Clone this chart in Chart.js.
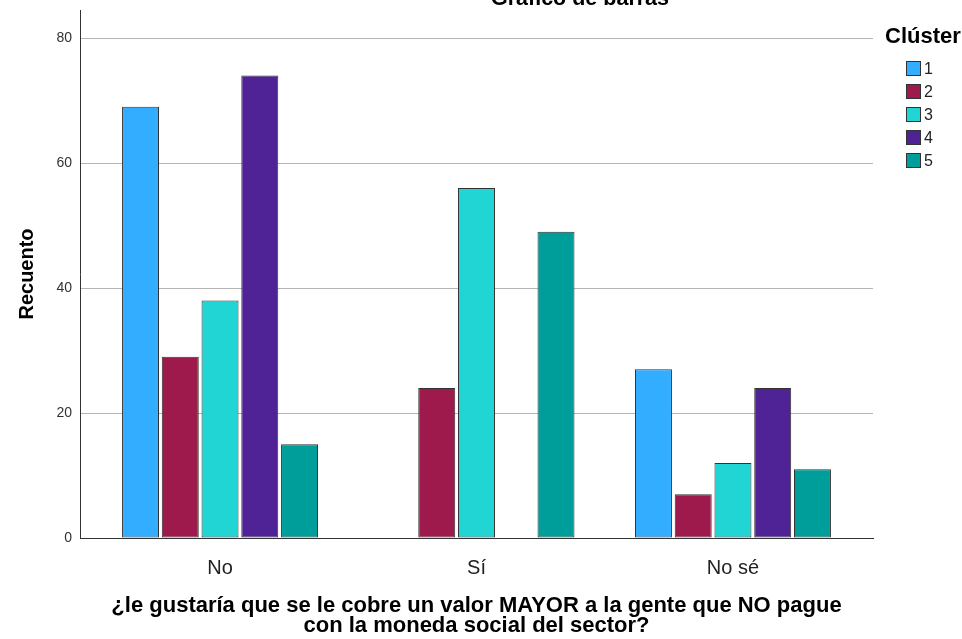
<!DOCTYPE html>
<html>
<head>
<meta charset="utf-8">
<script src="https://cdn.jsdelivr.net/npm/chart.js@4.4.0/dist/chart.umd.min.js"></script>
<style>
  body { margin: 0; background: #fff; font-family: "Liberation Sans", Arial, sans-serif; }
  #wrap { position: relative; width: 962px; height: 639px; }
  #legend { position: absolute; left: 885px; top: 23px; color: #000; }
  #legend .ttl { font-weight: bold; font-size: 22px; margin-bottom: 8px; }
  #legend .item { display: flex; align-items: center; height: 23px; margin-left: 21px; font-size: 16px; color: #222; }
  #legend .box { width: 13px; height: 13px; border: 1px solid #333; margin-right: 3px; }
</style>
</head>
<body>
<div id="wrap">
  <canvas id="barChart" width="962" height="639"></canvas>
  <div id="legend"></div>
</div>
<script>
const categories = ['No', 'Sí', 'No sé']
const clusters = ['1', '2', '3', '4', '5']
const cluster1 = [69, 0, 27]
const cluster2 = [29, 24, 7]
const cluster3 = [38, 56, 12]
const cluster4 = [74, 0, 24]
const cluster5 = [15, 49, 11]
const colors = ['#33adff', '#9e1a4c', '#22d5d5', '#4f2296', '#009e9a']
const yTicks = [0, 20, 40, 60, 80]

const series = [cluster1, cluster2, cluster3, cluster4, cluster5]

// legend on the right, like the SPSS output
const leg = document.getElementById('legend')
leg.innerHTML = '<div class="ttl">Clúster</div>' + clusters.map((c, i) =>
  '<div class="item"><span class="box" style="background:' + colors[i] + '"></span>' + c + '</div>').join('')

// cut-off title at the very top
const topTitle = {
  id: 'topTitle',
  afterDraw(chart) {
    const ctx = chart.ctx
    ctx.save()
    ctx.font = 'bold 21.5px "Liberation Sans", Arial'
    ctx.fillStyle = '#000'
    ctx.textAlign = 'center'
    ctx.textBaseline = 'alphabetic'
    ctx.fillText('Gráfico de barras', 580, 5)
    ctx.restore()
  }
}

const chat = document.getElementById('barChart')
const barChart = new Chart(chat, {
  type: 'bar',
  data: {
    datasets: series.map((vals, i) => ({
      label: clusters[i],
      data: vals.map((v, j) => ({ x: j, y: v })),
      backgroundColor: colors[i],
      borderColor: '#333',
      borderWidth: 1,
      borderSkipped: false,
      categoryPercentage: 0.775,
      barPercentage: 0.93
    }))
  },
  plugins: [topTitle],
  options: {
    responsive: false,
    animation: false,
    layout: { padding: { top: 10, right: 89, left: 0, bottom: 0 } },
    plugins: {
      legend: { display: false },
      tooltip: { enabled: false }
    },
    scales: {
      x: {
        type: 'linear',
        offset: false,
        min: -0.546,
        max: 2.546,
        afterBuildTicks: s => { s.ticks = categories.map((c, i) => ({ value: i })) },
        afterFit: s => { s.height = 101 },
        grid: { display: false },
        border: { color: '#333', width: 1 },
        ticks: {
          callback: v => categories[v],
          font: { size: 20, family: '"Liberation Sans", Arial' },
          color: '#222',
          padding: 10,
          maxRotation: 0
        },
        title: {
          display: true,
          text: ['¿le gustaría que se le cobre un valor MAYOR a la gente que NO pague', 'con la moneda social del sector?'],
          font: { size: 22, weight: 'bold', family: '"Liberation Sans", Arial', lineHeight: 0.91 },
          color: '#000',
          padding: { bottom: 3.5 }
        }
      },
      y: {
        min: 0,
        max: 84.5,
        afterBuildTicks: s => { s.ticks = yTicks.map(v => ({ value: v })) },
        afterFit: s => { s.width = 80; s.paddingTop = 0; s.paddingBottom = 0 },
        grid: {
          color: ctx => ctx.tick && ctx.tick.value === 0 ? 'rgba(0,0,0,0)' : '#b4b4b4',
          drawTicks: false
        },
        border: { color: '#333', width: 1 },
        ticks: {
          font: { size: 14, family: '"Liberation Sans", Arial' },
          color: '#333',
          padding: 8
        },
        title: {
          display: true,
          text: 'Recuento',
          font: { size: 20, weight: 'bold', family: '"Liberation Sans", Arial' },
          color: '#000',
          padding: { top: 15 }
        }
      }
    }
  }
})
</script>
</body>
</html>
